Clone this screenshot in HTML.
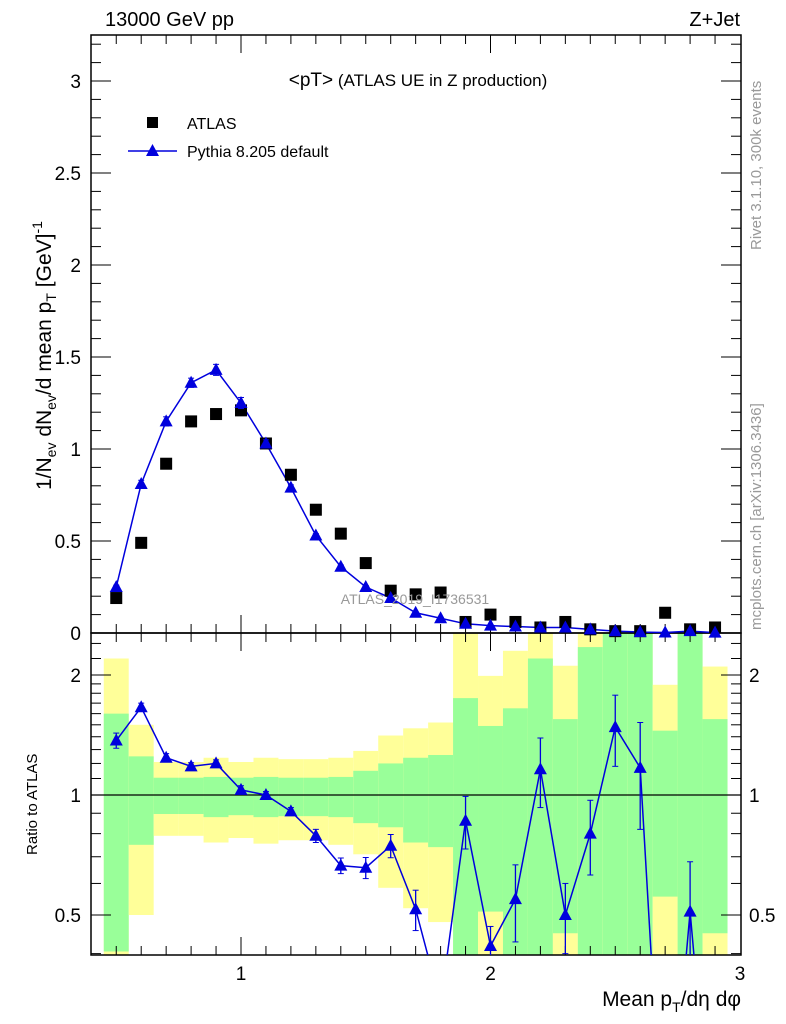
<!DOCTYPE html>
<html><head><meta charset="utf-8"><style>
html,body{margin:0;padding:0;background:#fff;width:786px;height:1024px;overflow:hidden}
svg{display:block;font-family:"Liberation Sans",sans-serif}
</style></head><body>
<svg id="c" width="786" height="1024" xmlns="http://www.w3.org/2000/svg">
<g id="bands"></g>
<g id="axes"></g>
<g id="marks"></g>
<text x="105" y="26" font-size="20">13000 GeV pp</text>
<text x="740" y="26" font-size="20" text-anchor="end">Z+Jet</text>
<text x="418" y="86" font-size="17" text-anchor="middle"><tspan font-size="19">&lt;pT&gt;</tspan> (ATLAS UE in Z production)</text>
<rect x="147" y="117" width="11" height="11" fill="#000"/>
<text x="187" y="129" font-size="16">ATLAS</text>
<line x1="128" y1="151" x2="177" y2="151" stroke="#0000dd" stroke-width="1.5"/>
<path d="M152.5,144 L159,156 L146,156 Z" fill="#0000dd"/>
<text x="187" y="157" font-size="16">Pythia 8.205 default</text>
<text x="415" y="604" font-size="14" fill="#999" text-anchor="middle">ATLAS_2019_I1736531</text>
<text transform="translate(761,250) rotate(-90)" font-size="15" fill="#999">Rivet 3.1.10,  300k events</text>
<text transform="translate(761,630) rotate(-90)" font-size="15" fill="#999">mcplots.cern.ch [arXiv:1306.3436]</text>
<text transform="translate(51,490) rotate(-90)" font-size="21">1/N<tspan font-size="14" dy="5">ev</tspan><tspan dy="-5"> dN</tspan><tspan font-size="14" dy="5">ev</tspan><tspan dy="-5">/d mean p</tspan><tspan font-size="14" dy="5">T</tspan><tspan dy="-5"> [GeV]</tspan><tspan font-size="14" dy="-9">-1</tspan></text>
<text transform="translate(37,855) rotate(-90)" font-size="15">Ratio to ATLAS</text>
<text x="741" y="1006" font-size="21" text-anchor="end">Mean p<tspan font-size="14" dy="6">T</tspan><tspan dy="-6">/dη dφ</tspan></text>
</svg>
<script>
const xCenters=[0.5,0.6,0.7,0.8,0.9,1.0,1.1,1.2,1.3,1.4,1.5,1.6,1.7,1.8,1.9,2.0,2.1,2.2,2.3,2.4,2.5,2.6,2.7,2.8,2.9];
const atlasVals=[0.19,0.49,0.92,1.15,1.19,1.21,1.03,0.86,0.67,0.54,0.38,0.23,0.21,0.22,0.06,0.10,0.06,0.03,0.06,0.02,0.01,0.01,0.11,0.02,0.03];
const pythiaVals=[0.25,0.81,1.15,1.36,1.43,1.25,1.03,0.79,0.53,0.36,0.25,0.19,0.11,0.08,0.05,0.04,0.035,0.03,0.03,0.02,0.01,0.005,0.003,0.01,0.002];
const pythiaErr=[0.01,0.02,0.025,0.025,0.03,0.03,0.02,0.015,0.01,0.01,0.008,0.006,0.005,0.004,0.004,0.003,0.003,0.003,0.003,0.002,0.002,0.002,0.002,0.002,0.002];
const ratioVals=[1.37,1.66,1.24,1.18,1.2,1.03,1.0,0.91,0.79,0.665,0.657,0.746,0.517,0.3,0.862,0.418,0.548,1.16,0.5,0.8,1.48,1.17,0.1,0.51,0.1];
const ratioErr=[0.06,0.04,0.03,0.025,0.025,0.025,0.02,0.02,0.03,0.03,0.04,0.05,0.06,0.05,0.13,0.05,0.12,0.23,0.1,0.17,0.3,0.35,0.05,0.17,0.05];
const yellowHi=[2.2,1.5,1.21,1.21,1.24,1.21,1.24,1.23,1.23,1.24,1.29,1.41,1.47,1.52,2.6,1.99,2.3,2.6,2.11,2.6,2.6,2.6,1.89,2.6,2.1];
const greenHi=[1.6,1.25,1.105,1.105,1.11,1.105,1.11,1.105,1.105,1.11,1.15,1.2,1.24,1.26,1.75,1.49,1.65,2.2,1.55,2.35,2.6,2.6,1.45,2.6,1.55];
const greenLo=[0.405,0.75,0.896,0.896,0.88,0.89,0.88,0.885,0.885,0.88,0.85,0.83,0.76,0.74,0.3,0.51,0.3,0.3,0.45,0.3,0.3,0.3,0.556,0.3,0.45];
const yellowLo=[0.38,0.5,0.79,0.79,0.76,0.78,0.755,0.77,0.77,0.75,0.71,0.585,0.52,0.48,0.3,0.3,0.3,0.3,0.3,0.3,0.3,0.3,0.3,0.3,0.3];
const mainTicks=[0,0.5,1,1.5,2,2.5,3];
const ratioTicks=[0.5,1,2];
const xTicks=[1,2,3];

const L=91,R=741,T=35,MB=633,RB=955;
const X=v=>241+(v-1)*249.5;
const Y=v=>MB-v*184;
const lg=v=>Math.log2(v);
const YR=v=>Math.min(RB,Math.max(MB,795-120*lg(v)));
const NS='http://www.w3.org/2000/svg';
function mk(p,tag,at){const e=document.createElementNS(NS,tag);for(const k in at)e.setAttribute(k,at[k]);document.getElementById(p).appendChild(e);return e;}
const hw=0.05;
xCenters.forEach((x,i)=>{
  let e=mk('bands','rect',{x:X(x-hw),width:X(x+hw)-X(x-hw),y:YR(yellowHi[i]),height:YR(yellowLo[i])-YR(yellowHi[i]),fill:'#ffff99'});
  
  
  e=mk('bands','rect',{x:X(x-hw),width:X(x+hw)-X(x-hw),y:YR(greenHi[i]),height:YR(greenLo[i])-YR(greenHi[i]),fill:'#99ff99'});
  
  
});
[[T,MB],[MB,RB]].forEach(([a,b])=>{const e=mk('axes','rect',{x:L,y:a,width:R-L,height:b-a,fill:'none',stroke:'#000','stroke-width':1.5});

});
let l1=mk('axes','line',{x1:L,x2:R,y1:795,y2:795,stroke:'#000','stroke-width':1.2});


for(let k=5;k<=29;k++){const v=k/10,x=X(v),maj=k%10==0,s=maj?18:9;
 [[MB,-1],[T,1],[RB,-1],[MB,1]].forEach(([y,d])=>mk('axes','line',{x1:x,x2:x,y1:y,y2:y+d*s,stroke:'#000','stroke-width':1}));}
xTicks.forEach(v=>{const t=mk('axes','text',{x:X(v),y:980,'font-size':19,'text-anchor':'middle'});t.textContent=v;

});
for(let k=0;k<=32;k++){const v=k/10,y=Y(v),maj=k%5==0,s=maj?20:10;
 mk('axes','line',{x1:L,x2:L+s,y1:y,y2:y,stroke:'#000'});mk('axes','line',{x1:R,x2:R-s,y1:y,y2:y,stroke:'#000'});}
mainTicks.forEach(v=>{const t=mk('axes','text',{x:81,y:Y(v)+7,'font-size':19,'text-anchor':'end'});t.textContent=v;

});
[0.4,0.5,0.6,0.7,0.8,0.9,1,1.1,1.2,1.3,1.4,1.5,1.6,1.7,1.8,1.9,2,2.2,2.4].forEach(v=>{const y=YR(v),maj=ratioTicks.includes(v),s=maj?20:10;
 mk('axes','line',{x1:L,x2:L+s,y1:y,y2:y,stroke:'#000'});mk('axes','line',{x1:R,x2:R-s,y1:y,y2:y,stroke:'#000'});});
ratioTicks.forEach(v=>{[[81,'end'],[749,'start']].forEach(([x,a])=>{const t=mk('axes','text',{x:x,y:YR(v)+7,'font-size':19,'text-anchor':a});t.textContent=v;

});});
const pyPts=xCenters.map((x,i)=>X(x)+','+Y(pythiaVals[i])).join(' ');
let pl=mk('marks','polyline',{points:pyPts,fill:'none',stroke:'#0000dd','stroke-width':1.5});


function tri(p,x,y,name){const e=mk(p,'path',{d:`M${x},${y-7} L${x+6.5},${y+5} L${x-6.5},${y+5} Z`,fill:'#0000dd'});

}
function err(p,x,y1,y2){mk(p,'line',{x1:x,x2:x,y1:y1,y2:y2,stroke:'#0000dd','stroke-width':1.3});
mk(p,'line',{x1:x-3,x2:x+3,y1:y1,y2:y1,stroke:'#0000dd'});mk(p,'line',{x1:x-3,x2:x+3,y1:y2,y2:y2,stroke:'#0000dd'});}
xCenters.forEach((x,i)=>{
 const r=mk('marks','rect',{x:X(x)-6,y:Y(atlasVals[i])-6,width:12,height:12,fill:'#000'});
 
 
 err('marks',X(x),Y(pythiaVals[i]+pythiaErr[i]),Y(pythiaVals[i]-pythiaErr[i]));
 tri('marks',X(x),Y(pythiaVals[i]),'pythia-point');
});
const clipR=mk('marks','clipPath',{id:'cr'});
const cr=document.createElementNS(NS,'rect');cr.setAttribute('x',L);cr.setAttribute('y',MB);cr.setAttribute('width',R-L);cr.setAttribute('height',RB-MB);clipR.appendChild(cr);
const g=mk('marks','g',{'clip-path':'url(#cr)',id:'rg'});


const YRu=v=>795-120*lg(v);
const rPts=xCenters.map((x,i)=>X(x)+','+YRu(ratioVals[i])).join(' ');
mk('rg','polyline',{points:rPts,fill:'none',stroke:'#0000dd','stroke-width':1.5});
xCenters.forEach((x,i)=>{
 if(ratioVals[i]<0.38)return;
 err('rg',X(x),YRu(ratioVals[i]+ratioErr[i]),YRu(ratioVals[i]-ratioErr[i]));
 tri('rg',X(x),YRu(ratioVals[i]),'ratio-point');
});
</script>
</body></html>
